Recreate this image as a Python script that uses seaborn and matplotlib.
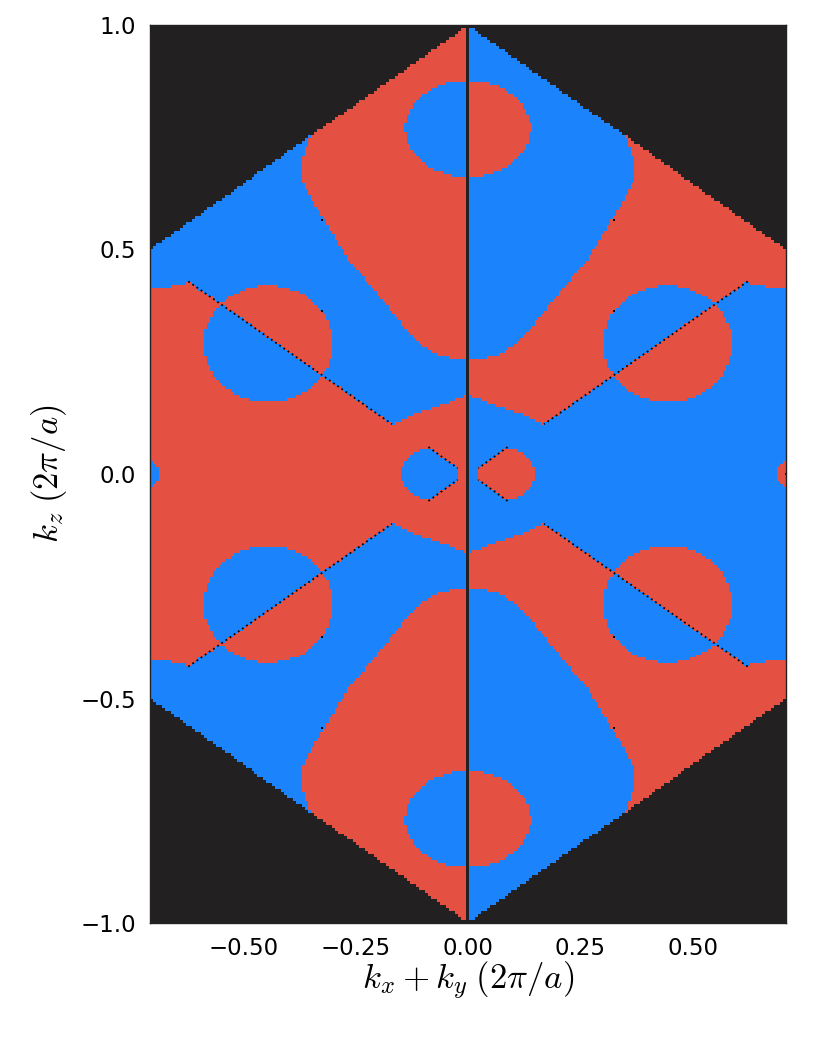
import numpy as np
import pandas as pd
import matplotlib
matplotlib.use("Agg")
import matplotlib.pyplot as plt
import seaborn as sns
from matplotlib.colors import ListedColormap

# ---------------- data ----------------
# plot extent
XMAX = 0.7071
YMAX = 1.0
# hexagon (Brillouin-zone cut): top vertex (0,1), side vertices (+-XMAX, +-0.5)
hex_top = 1.0
hex_side = 0.5

# colours: 0 = outside zone, 1 = red, 2 = blue
col_black = "#222021"
col_red = "#E45142"
col_blue = "#1B84FC"

# Boundary of the red "tongue" (left half, upper quadrant): x as a function of kz
tongue_y = [0.253, 0.260, 0.269, 0.291, 0.320, 0.357, 0.393, 0.430, 0.463,
            0.497, 0.535, 0.571, 0.604, 0.631, 0.660, 0.698, 0.751]
tongue_x = [0.000, -0.047, -0.078, -0.107, -0.136, -0.167, -0.196, -0.224, -0.256,
            -0.278, -0.300, -0.322, -0.344, -0.358, -0.369, -0.369, -0.351]

# Lower edge of the blue band (left half, upper quadrant)
band_x = [-0.7071, -0.670, -0.640, -0.622, -0.169, -0.144, -0.122, -0.091, -0.056, -0.030, 0.000]
band_y = [0.412, 0.417, 0.421, 0.429, 0.111, 0.122, 0.133, 0.144, 0.156, 0.165, 0.178]

# Ellipses (centre x, centre y, semi-axis x, semi-axis y) in the left-upper quadrant
top_ellipse = [0.000, 0.769, 0.140, 0.108]      # blue pocket at the top
inv_ellipse = [-0.444, 0.290, 0.144, 0.130]     # pocket that inverts the colours
dia_ellipse = [-0.086, 0.000, 0.062, 0.057]     # small central pocket
edge_ellipse = [-0.7071, 0.000, 0.020, 0.030]   # pocket at the zone edge
dia_tip_x = -0.023
dia_apex_x = -0.005
dia_slope = 0.72

# Nodal (dotted) line segments in the left-upper quadrant: x0, y0, x1, y1
seg_x0 = [-0.622, -0.088]
seg_y0 = [0.429, 0.060]
seg_x1 = [-0.169, -0.023]
seg_y1 = [0.111, 0.013]

# isolated nodal points (left-upper quadrant)
dot_x = [-0.324, -0.324, -0.7071]
dot_y = [0.565, 0.364, 0.000]

# ---------------- build the map ----------------
nx, ny = 213, 301
dx = 2 * XMAX / nx
dy = 2 * YMAX / ny
xs = np.linspace(-XMAX + dx / 2, XMAX - dx / 2, nx)
ys = np.linspace(-YMAX + dy / 2, YMAX - dy / 2, ny)
X, Y = np.meshgrid(xs, ys)

RED, BLUE = 1, 2


def inside(x, y, e):
    return ((x - e[0]) / e[2]) ** 2 + ((y - e[1]) / e[3]) ** 2 <= 1.0


def left_field(x, y):
    band = np.interp(x, band_x, band_y)
    val = np.where(y > band, BLUE, RED)
    xt = np.interp(y, tongue_y, tongue_x, left=1.0, right=-1.0)
    val = np.where(x > xt, RED, val)
    val = np.where(inside(x, y, top_ellipse), BLUE, val)
    val = np.where(inside(x, y, inv_ellipse), 3 - val, val)
    dia = inside(x, y, dia_ellipse) & (x < dia_tip_x) & (y < dia_slope * (dia_apex_x - x))
    val = np.where(dia, BLUE, val)
    val = np.where(inside(x, y, edge_ellipse), BLUE, val)
    return val


ax_ = -np.abs(X)
ay_ = np.abs(Y)
grid = left_field(ax_, ay_)
grid = np.where(X > 0, 3 - grid, grid)
outside = ay_ > hex_top - (hex_top - hex_side) / XMAX * np.abs(X)
grid = np.where(outside, 0, grid)
grid = np.where(np.abs(X) < dx / 2, 0, grid)

# segments mirrored into the four quadrants
rows = []
sid = 0
for sx in (-1, 1):
    for sy in (-1, 1):
        for a0, b0, a1, b1 in zip(seg_x0, seg_y0, seg_x1, seg_y1):
            rows.append((sid, sx * a0, sy * b0))
            rows.append((sid, sx * a1, sy * b1))
            sid += 1
segs = pd.DataFrame(rows, columns=["seg", "x", "y"])
pts = pd.DataFrame([(sx * a, sy * b) for sx in (-1, 1) for sy in (-1, 1)
                    for a, b in zip(dot_x, dot_y)], columns=["x", "y"])

# ---------------- draw ----------------
sns.set_style("white")
plt.rcParams["font.family"] = ["DejaVu Sans"]
plt.rcParams["mathtext.fontset"] = "cm"
plt.rcParams["text.color"] = "black"
plt.rcParams["axes.labelcolor"] = "black"
plt.rcParams["xtick.color"] = "black"
plt.rcParams["ytick.color"] = "black"

fig = plt.figure(figsize=(8.3, 10.38), dpi=100)
ax = fig.add_axes([150 / 830, 1 - 923 / 1038, 636 / 830, 898 / 1038])
ax.imshow(grid, origin="lower", extent=[-XMAX, XMAX, -YMAX, YMAX],
          cmap=ListedColormap([col_black, col_red, col_blue]), vmin=0, vmax=2,
          interpolation="nearest", aspect="auto")
sns.lineplot(data=segs, x="x", y="y", units="seg", estimator=None, sort=False,
             color="black", lw=1.3, linestyle=(0, (1, 1.8)), ax=ax, legend=False)
sns.scatterplot(data=pts, x="x", y="y", color="black", s=2, marker="s",
                linewidth=0, ax=ax, legend=False)

ax.set_xlim(-XMAX, XMAX)
ax.set_ylim(-YMAX, YMAX)
ax.set_xticks([-0.5, -0.25, 0.0, 0.25, 0.5])
ax.set_yticks([-1.0, -0.5, 0.0, 0.5, 1.0])
ax.tick_params(length=0, labelsize=16.5, pad=10, colors="black")
ax.set_xlabel(r"$k_x + k_y\;(2\pi/a)$", fontsize=25, labelpad=0, color="black")
ax.set_ylabel(r"$k_z\;(2\pi/a)$", fontsize=25, labelpad=8, color="black")
for s in ax.spines.values():
    s.set_visible(True)
    s.set_color("#222222")
    s.set_linewidth(1.0)

fig.savefig("out.png", dpi=100)
